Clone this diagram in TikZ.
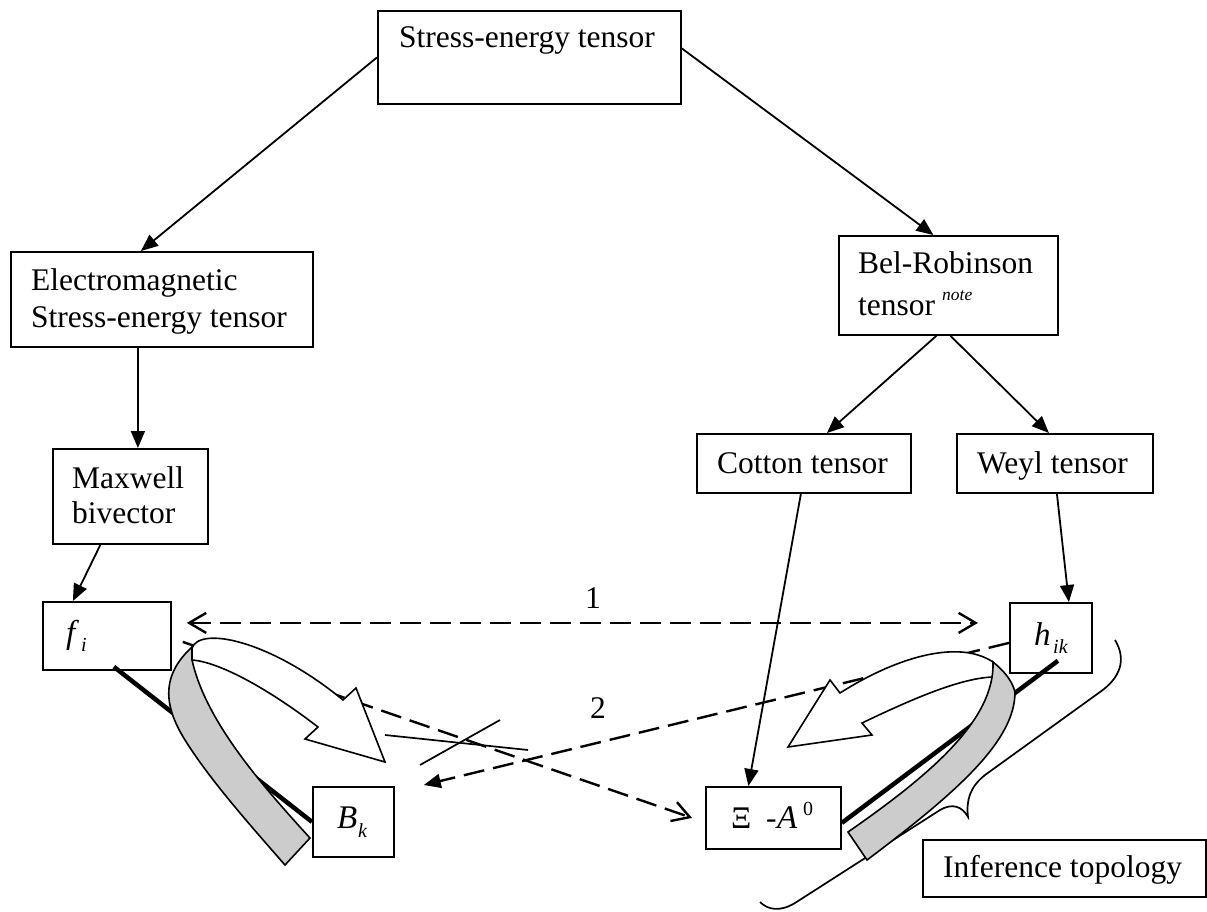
\documentclass[tikz,border=0pt]{standalone}
\usepackage{fontspec}
\setmainfont{Liberation Serif}
\usetikzlibrary{arrows.meta}
\definecolor{ribbon}{RGB}{204,204,204}
\begin{document}
\begin{tikzpicture}[x=1pt,y=-1pt,
  box/.style={draw, line width=1.8pt, inner sep=0pt, anchor=north west},
  txt/.style={anchor=base west, inner sep=0pt, font=\fontsize{31.5}{37}\selectfont},
  itx/.style={anchor=base west, inner sep=0pt, font=\fontsize{33}{37}\selectfont\itshape},
  subx/.style={anchor=base west, inner sep=0pt, font=\fontsize{20}{24}\selectfont\itshape},
  supx/.style={anchor=base west, inner sep=0pt, font=\fontsize{20}{24}\selectfont},
  notex/.style={anchor=base west, inner sep=0pt, font=\fontsize{17.5}{20}\selectfont\itshape},
  conn/.style={line width=1.8pt, -{Triangle[length=17pt,width=14pt]}},
  dline/.style={line width=2.4pt, dash pattern=on 21pt off 9pt},
  thick line/.style={line width=4.5pt},
  thin/.style={line width=1.7pt},
  shape line/.style={line width=1.6pt, line join=miter},
]
\useasboundingbox (0,0) rectangle (1207,912);

% boxes
\node[box, minimum width=303pt, minimum height=93pt] (SE) at (377,10) {};
\node[box, minimum width=302pt, minimum height=95pt] (EM) at (10,251) {};
\node[box, minimum width=155pt, minimum height=95pt] (MX) at (52,448) {};
\node[box, minimum width=128pt, minimum height=68pt] (FI) at (42,601) {};
\node[box, minimum width=81pt, minimum height=70pt] (BK) at (312,786) {};
\node[box, minimum width=219pt, minimum height=99pt] (BR) at (838,235) {};
\node[box, minimum width=214pt, minimum height=59pt] (CT) at (696,433) {};
\node[box, minimum width=196pt, minimum height=59pt] (WY) at (956,433) {};
\node[box, minimum width=82pt, minimum height=70pt] (HK) at (1009,602) {};
\node[box, minimum width=135pt, minimum height=62pt] (XA) at (705,786) {};
\node[box, minimum width=283pt, minimum height=57pt] (IT) at (922,839) {};

% texts
\node[txt] (tSE) at (399,48) {Stress-energy tensor};
\node[txt] (tEM1) at (31,290) {Electromagnetic};
\node[txt] (tEM2) at (31,327) {Stress-energy tensor};
\node[txt] (tMX1) at (72,488) {Maxwell};
\node[txt] (tMX2) at (72,523) {bivector};
\node[txt] (tBR1) at (858,273) {Bel-Robinson};
\node[txt] (tBR2) at (858,315) {tensor};
\node[notex] (tNote) at (942,300) {note};
\node[txt] (tCT) at (717,473) {Cotton tensor};
\node[txt] (tWY) at (977,473) {Weyl tensor};
\node[txt] (tIT) at (943,877) {Inference topology};
\node[itx] (tF) at (66,643) {f};
\node[subx] (tFi) at (81,651) {i};
\node[itx] (tB) at (337,828) {B};
\node[subx] (tBk) at (358,837) {k};
\node[itx] (tH) at (1034,645) {h};
\node[subx] (tHik) at (1053,653) {ik};
\node[txt] (tXi) at (731,828) {Ξ};
\node[txt] (tMinus) at (766,828) {-};
\node[itx] (tA) at (777,828) {A};
\node[supx] (tA0) at (803,815) {0};
\node[txt] (l1) at (585,608) {1};
\node[txt] (l2) at (590,718) {2};

% solid connectors
\draw[conn] (SE.west) -- ([xshift=-21pt]EM.north);
\draw[conn] ([yshift=9pt]SE.east) -- ([xshift=-15pt]BR.north);
\draw[conn] ([xshift=-24pt]EM.south) -- ([xshift=-24pt]EM.south |- MX.north);
\draw[conn] ([xshift=-30pt]MX.south) -- ([xshift=-34pt]FI.north);
\draw[conn] ([xshift=-12pt]BR.south) -- ([xshift=23pt]CT.north);
\draw[conn] ([xshift=2pt]BR.south) -- ([xshift=-6pt]WY.north);
\draw[conn] ([xshift=-3pt]CT.south) -- ([xshift=-25pt]XA.north);
\draw[conn] ([xshift=2pt]WY.south) -- ([xshift=18pt]HK.north);

% thick lines
\draw[thick line] ([xshift=7pt,yshift=4pt]FI.south) -- (BK.west);
\draw[thick line] ([xshift=7pt,yshift=13pt]HK.south) -- ([yshift=-5pt]XA.east);

% dashed connectors
\draw[dline, {Straight Barb[length=17pt,width=20pt]}-{Straight Barb[length=17pt,width=20pt]}]
  ([xshift=15pt,yshift=13pt]FI.east) -- ([xshift=-31pt,yshift=15pt]HK.west);
\draw[dline, -{Straight Barb[length=17pt,width=20pt]}]
  ([xshift=11pt,yshift=-6pt]FI.east) -- ([xshift=-13pt,yshift=0pt]XA.west);
\draw[dline, -{Triangle[length=17pt,width=14pt]}]
  ([yshift=-5pt]HK.west) -- ([xshift=29pt,yshift=1pt]BK.north east);

% crossing-out lines
\coordinate (c1a) at (385,735);
\coordinate (c1b) at (528,750);
\coordinate (c2a) at (420,765);
\coordinate (c2b) at (500,720);
\draw[thin] (c1a) -- (c1b);
\draw[thin] (c2a) -- (c2b);

% brace
\draw[thin] (1115,640) .. controls (1127,660) and (1120,678) .. (1100,692)
  -- (985,775) .. controls (970,787) and (966,800) .. (968,817)
  .. controls (962,806) and (952,803) .. (940,810)
  -- (795,903) .. controls (780,912) and (768,910) .. (760,902);

% left curved block arrow and ribbon
\draw[shape line, fill=white] (192,648) .. controls (200,626) and (270,640) .. (343,700)
  -- (356,688) -- (385,762) -- (305,739) -- (318,727)
  .. controls (270,690) and (220,662) .. (192,660) -- cycle;
\draw[shape line, fill=ribbon] (192,647) .. controls (165,672) and (160,700) .. (185,740)
  .. controls (210,780) and (250,825) .. (285,865) -- (310,838)
  .. controls (255,778) and (205,718) .. (192,660) -- cycle;

% right curved block arrow and ribbon
\draw[shape line, fill=white] (993,662) .. controls (960,640) and (900,655) .. (840,693)
  -- (830,680) -- (788,747) -- (872,735) -- (862,723)
  .. controls (910,700) and (960,678) .. (993,677) -- cycle;
\draw[shape line, fill=ribbon] (993,662) .. controls (1003,670) and (1012,680) .. (1015,692)
  .. controls (1015,740) and (960,790) .. (867,860) -- (848,832)
  .. controls (930,775) and (995,720) .. (993,662) -- cycle;
\end{tikzpicture}
\end{document}
